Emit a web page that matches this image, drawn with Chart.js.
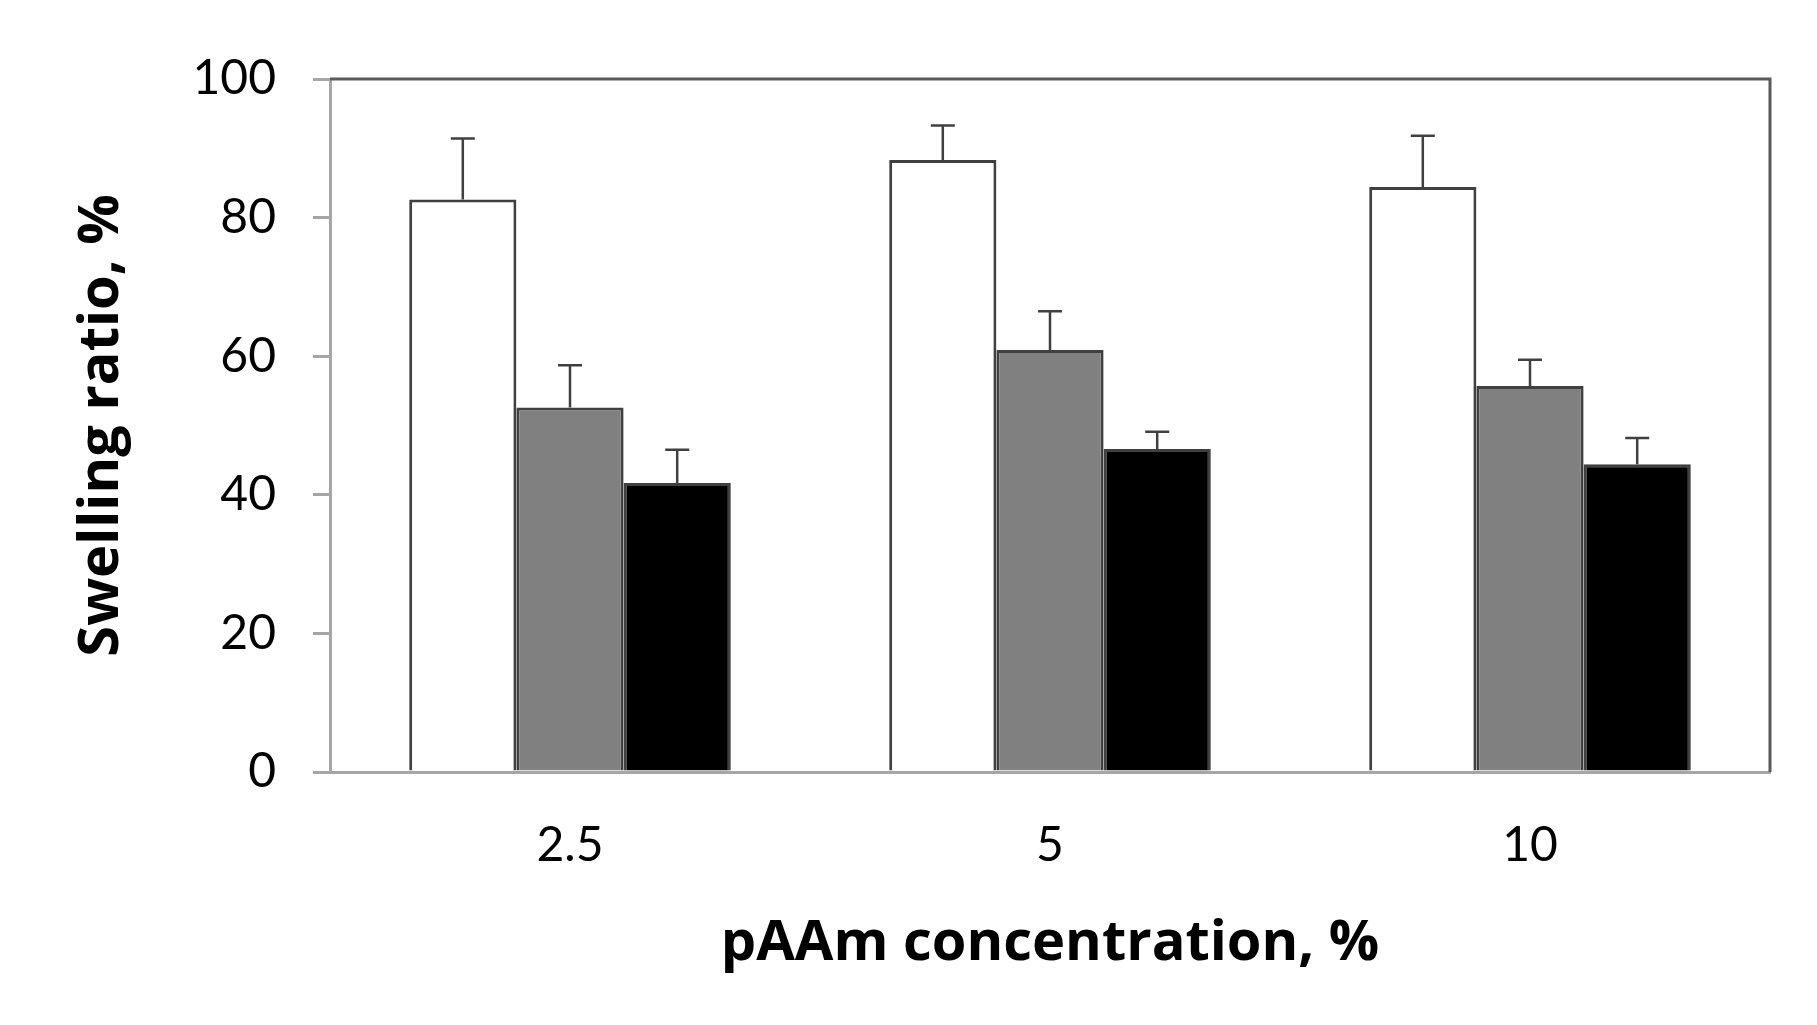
<!DOCTYPE html>
<html>
<head>
<meta charset="utf-8">
<script src="https://cdn.jsdelivr.net/npm/chart.js@4"></script>
<style>
  html, body { margin: 0; padding: 0; background: #fff; }
  #wrap { width: 1817px; height: 1025px; }
</style>
</head>
<body>
<div id="wrap"><canvas id="myChart" width="1817" height="1025"></canvas></div>
<script>
// pAAm concentrations (x categories)
const categories = ['2.5', '5', '10'];

// swelling ratio, % and upper error for the three series (white, gray, black)
const whiteValues = [82.6, 88.3, 84.4];
const whiteErrors = [8.8, 5.0, 7.4];
const grayValues = [52.6, 60.9, 55.7];
const grayErrors = [6.1, 5.6, 3.8];
const blackValues = [41.7, 46.6, 44.4];
const blackErrors = [4.8, 2.5, 3.8];

const yTicks = [0, 20, 40, 60, 80, 100];

const FONT = 'Lato, "Open Sans", sans-serif';
const TITLE_FONT = '"Open Sans", Lato, sans-serif';

// draws the upward error bars from the bar tops
const errorBars = {
  id: 'errorBars',
  afterDatasetsDraw(chart) {
    const ctx = chart.ctx;
    const yScale = chart.scales.y;
    ctx.save();
    ctx.strokeStyle = '#404040';
    ctx.lineWidth = 2.5;
    chart.data.datasets.forEach((ds, i) => {
      const meta = chart.getDatasetMeta(i);
      meta.data.forEach((bar, j) => {
        const top = yScale.getPixelForValue(ds.data[j] + ds.errors[j]);
        ctx.beginPath();
        ctx.moveTo(bar.x, bar.y);
        ctx.lineTo(bar.x, top);
        ctx.moveTo(bar.x - 12, top);
        ctx.lineTo(bar.x + 12, top);
        ctx.stroke();
      });
    });
    ctx.restore();
  },
};

// dark frame on the top and right of the plot area
const plotFrame = {
  id: 'plotFrame',
  beforeDatasetsDraw(chart) {
    const { ctx, chartArea } = chart;
    ctx.save();
    ctx.strokeStyle = '#595959';
    ctx.lineWidth = 3;
    ctx.beginPath();
    ctx.moveTo(chartArea.left, chartArea.top);
    ctx.lineTo(chartArea.right, chartArea.top);
    ctx.lineTo(chartArea.right, chartArea.bottom);
    ctx.stroke();
    ctx.restore();
  },
};

const ctx = document.getElementById('myChart').getContext('2d');

const myChart = new Chart(ctx, {
  type: 'bar',
  data: {
    labels: categories,
    datasets: [
      {
        label: 'white',
        data: whiteValues,
        errors: whiteErrors,
        backgroundColor: '#ffffff',
        borderColor: '#404040',
        borderWidth: 3,
      },
      {
        label: 'gray',
        data: grayValues,
        errors: grayErrors,
        backgroundColor: '#808080',
        borderColor: '#404040',
        borderWidth: 3,
      },
      {
        label: 'black',
        data: blackValues,
        errors: blackErrors,
        backgroundColor: '#000000',
        borderColor: '#404040',
        borderWidth: 3,
      },
    ],
  },
  options: {
    responsive: false,
    animation: false,
    layout: {
      padding: { top: 79, right: 47, left: 0, bottom: 0 },
    },
    datasets: {
      bar: {
        barPercentage: 1,
        categoryPercentage: 0.67,
      },
    },
    plugins: {
      legend: { display: false },
      tooltip: { enabled: false },
    },
    scales: {
      x: {
        afterFit(scale) {
          scale.height = 253;
        },
        grid: { display: false, drawTicks: false },
        border: { color: '#a6a6a6', width: 3 },
        ticks: {
          color: '#000',
          padding: 45,
          font: { family: FONT, size: 48 },
        },
        title: {
          display: true,
          text: 'pAAm concentration, %',
          color: '#000',
          padding: { top: 0, bottom: 47 },
          font: { family: TITLE_FONT, size: 56, weight: 'bold' },
        },
      },
      y: {
        min: 0,
        max: 100,
        afterFit(scale) {
          scale.width = 330;
        },
        afterBuildTicks(scale) {
          scale.ticks = yTicks.map((v) => ({ value: v }));
        },
        grid: {
          drawOnChartArea: false,
          color: '#a6a6a6',
          lineWidth: 3,
          tickLength: 17,
        },
        border: { color: '#a6a6a6', width: 3 },
        ticks: {
          color: '#000',
          padding: 37,
          font: { family: FONT, size: 48 },
        },
        title: {
          display: true,
          text: 'Swelling ratio, %',
          color: '#000',
          padding: { top: 68, bottom: 0 },
          font: { family: TITLE_FONT, size: 56, weight: 'bold' },
        },
      },
    },
  },
  plugins: [plotFrame, errorBars],
});
</script>
</body>
</html>
